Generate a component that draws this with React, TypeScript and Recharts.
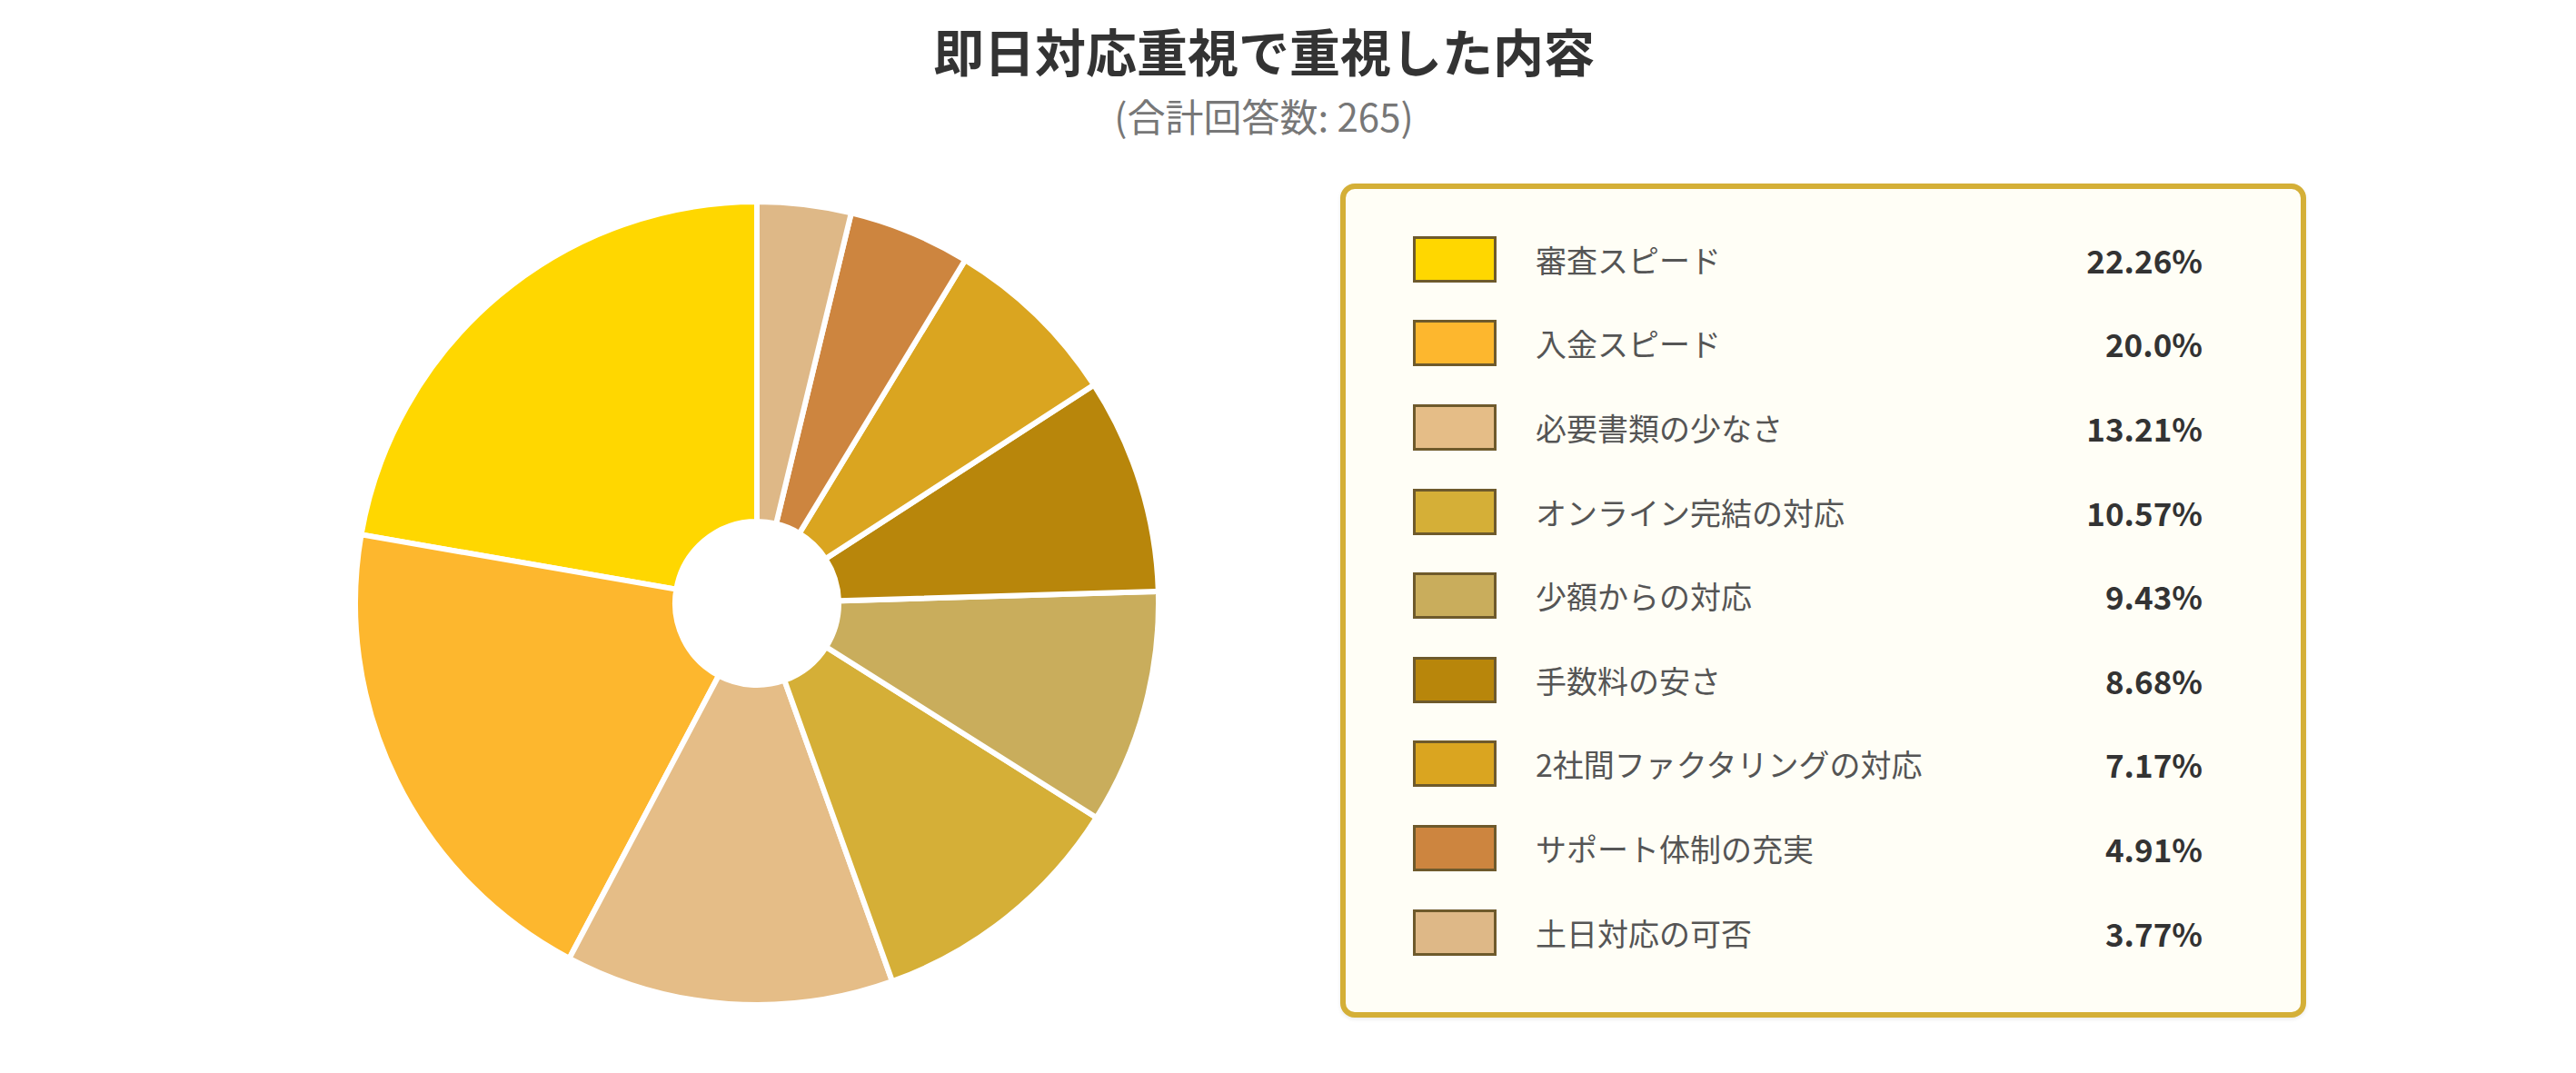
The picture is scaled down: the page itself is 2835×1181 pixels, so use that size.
import React from "react";
import { PieChart, Pie, Cell, Legend } from "recharts";

const TITLE = "即日対応重視で重視した内容";
const SUBTITLE = "(合計回答数: 265)";

const categories = [
  "審査スピード",
  "入金スピード",
  "必要書類の少なさ",
  "オンライン完結の対応",
  "少額からの対応",
  "手数料の安さ",
  "2社間ファクタリングの対応",
  "サポート体制の充実",
  "土日対応の可否",
];
const counts = [59, 53, 35, 28, 25, 23, 19, 13, 10];
const percentLabels = ["22.26%", "20.0%", "13.21%", "10.57%", "9.43%", "8.68%", "7.17%", "4.91%", "3.77%"];
const colors = ["#FFD700", "#FDB72E", "#E5BD87", "#D5AF37", "#C9AD5C", "#B8860B", "#DAA520", "#CD853F", "#DEB887"];

const data = categories.map((name, i) => ({ name, value: counts[i] }));

const FONT = '"Noto Sans CJK JP", "Noto Sans", sans-serif';

function LegendBox() {
  return (
    <div
      style={{
        boxSizing: "border-box",
        width: 1063,
        height: 918,
        border: "6px solid #D4AF37",
        borderRadius: 16,
        background: "#FFFEF6",
        boxShadow: "0 2px 4px rgba(0,0,0,0.08)",
        paddingTop: 31,
        fontFamily: FONT,
      }}
    >
      {categories.map((name, i) => (
        <div key={name} style={{ display: "flex", alignItems: "center", height: 92.6 }}>
          <div
            style={{
              boxSizing: "border-box",
              width: 92,
              height: 51,
              marginLeft: 74,
              background: colors[i],
              border: "3px solid #6E5A2C",
            }}
          />
          <span style={{ marginLeft: 43, flex: 1, fontSize: 34, color: "#555" }}>{name}</span>
          <span style={{ paddingRight: 108, fontSize: 35, fontWeight: 700, color: "#333" }}>
            {percentLabels[i]}
          </span>
        </div>
      ))}
    </div>
  );
}

export default function App() {
  return (
    <div style={{ position: "relative", width: 2819, height: 1165, background: "#fff", fontFamily: FONT }}>
      <div
        style={{
          position: "absolute",
          left: 1383 - 400,
          width: 800,
          top: 6,
          lineHeight: "normal",
          textAlign: "center",
          fontSize: 56,
          fontWeight: 700,
          color: "#333",
        }}
      >
        {TITLE}
      </div>
      <div
        style={{
          position: "absolute",
          left: 1383 - 250,
          width: 500,
          top: 88,
          lineHeight: "normal",
          textAlign: "center",
          fontSize: 42,
          color: "#777",
        }}
      >
        {SUBTITLE}
      </div>
      <PieChart width={2819} height={1165} style={{ position: "absolute", left: 0, top: 0 }}>
        <Pie
          data={data}
          dataKey="value"
          nameKey="name"
          cx={820}
          cy={651}
          innerRadius={90}
          outerRadius={442}
          startAngle={90}
          endAngle={450}
          stroke="#fff"
          strokeWidth={6}
          isAnimationActive={false}
        >
          {data.map((d, i) => (
            <Cell key={d.name} fill={colors[i]} />
          ))}
        </Pie>
        <Legend
          content={() => <LegendBox />}
          wrapperStyle={{ position: "absolute", left: 1467, top: 194, width: 1063 }}
        />
      </PieChart>
    </div>
  );
}
